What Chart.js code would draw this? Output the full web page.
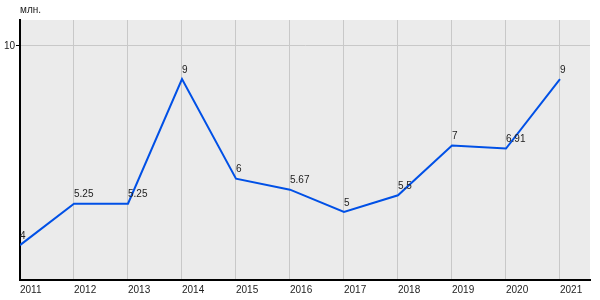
<!DOCTYPE html>
<html>
<head>
<meta charset="utf-8">
<script src="https://cdn.jsdelivr.net/npm/chart.js@4"></script>
<style>
  html, body { margin: 0; padding: 0; background: #fff; }
  #wrap { width: 600px; height: 300px; }
</style>
</head>
<body>
<div id="wrap"><canvas id="lineChart" width="600" height="300"></canvas></div>
<script>
const years = [2011, 2012, 2013, 2014, 2015, 2016, 2017, 2018, 2019, 2020, 2021];
const values = [4, 5.25, 5.25, 9, 6, 5.67, 5, 5.5, 7, 6.91, 9];
const yTicks = [10];
const unitLabel = "млн.";

Chart.defaults.font.family = "'Liberation Sans', Arial, sans-serif";
Chart.defaults.font.size = 10;
Chart.defaults.color = "#222";

// grey plot background
const plotBg = {
  id: "plotBg",
  beforeDraw(chart) {
    const { ctx, chartArea } = chart;
    ctx.save();
    ctx.fillStyle = "#ebebeb";
    ctx.fillRect(chartArea.left, chartArea.top, chartArea.right - chartArea.left, chartArea.bottom - chartArea.top);
    ctx.restore();
  }
};

// value labels + unit text
const valueLabels = {
  id: "valueLabels",
  afterDatasetsDraw(chart) {
    const { ctx } = chart;
    const meta = chart.getDatasetMeta(0);
    ctx.save();
    ctx.font = "10px 'Liberation Sans', Arial, sans-serif";
    ctx.fillStyle = "#222";
    ctx.textAlign = "left";
    ctx.textBaseline = "bottom";
    meta.data.forEach((pt, i) => {
      ctx.fillText(String(values[i]), pt.x, pt.y - 4);
    });
    ctx.fillText(unitLabel, chart.chartArea.left, 15);
    ctx.restore();
  }
};

const ctx = document.getElementById("lineChart").getContext("2d");
new Chart(ctx, {
  type: "line",
  data: {
    datasets: [
      {
        data: years.map((y, i) => ({ x: y, y: values[i] })),
        borderColor: "#0050e6",
        borderWidth: 2,
        pointRadius: 0,
        tension: 0,
        fill: false
      }
    ]
  },
  options: {
    responsive: false,
    animation: false,
    layout: { padding: { top: 20, right: 10, left: 0, bottom: 0 } },
    plugins: { legend: { display: false }, tooltip: { enabled: false } },
    scales: {
      x: {
        type: "linear",
        min: 2011,
        max: 2021.556,
        afterBuildTicks: (scale) => {
          scale.ticks = years.map((v) => ({ value: v }));
        },
        afterFit: (scale) => {
          scale.height = 20;
        },
        ticks: {
          align: "start",
          padding: 4,
          maxRotation: 0,
          autoSkip: false,
          callback: (v) => String(v)
        },
        grid: { color: "#c8c8c8", drawTicks: false },
        border: { color: "#000", width: 2 }
      },
      y: {
        min: 2.95,
        max: 10.78,
        afterBuildTicks: (scale) => {
          scale.ticks = yTicks.map((v) => ({ value: v }));
        },
        afterFit: (scale) => {
          scale.width = 20;
        },
        ticks: { padding: 1 },
        grid: { color: "#c8c8c8", tickColor: "#000", tickLength: 4 },
        border: { color: "#000", width: 2 }
      }
    }
  },
  plugins: [plotBg, valueLabels]
});
</script>
</body>
</html>
